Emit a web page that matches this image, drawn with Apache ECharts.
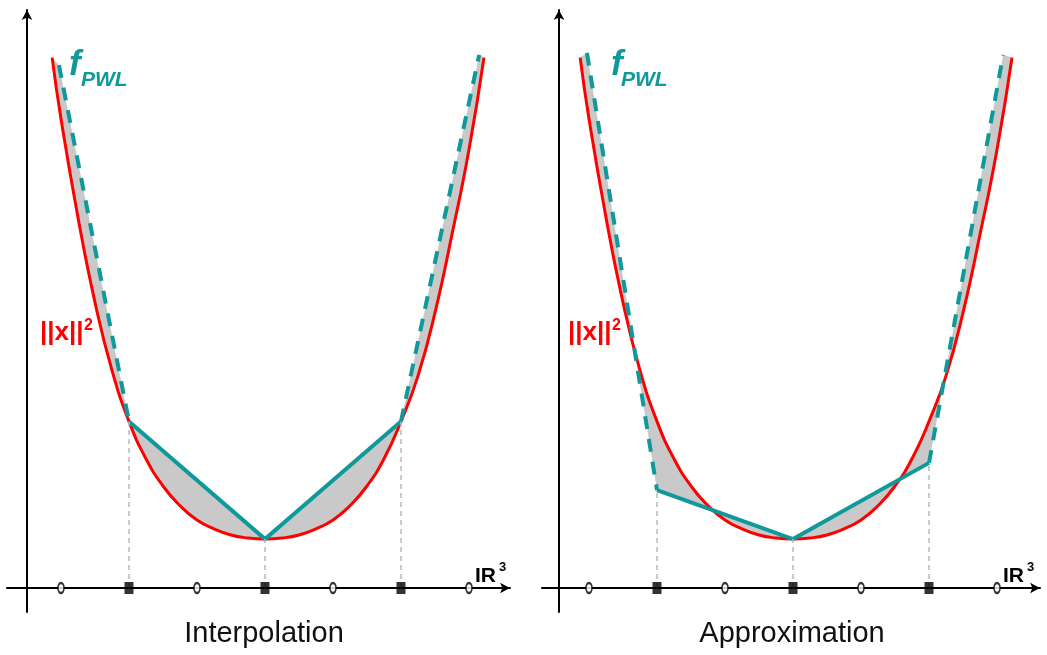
<!DOCTYPE html>
<html>
<head>
<meta charset="utf-8">
<script src="https://cdn.jsdelivr.net/npm/echarts@6/dist/echarts.min.js"></script>
<style>
  html, body { margin: 0; padding: 0; background: #fff; }
  #chart { width: 1047px; height: 655px; }
</style>
</head>
<body>
<div id="chart"></div>
<script>
// ||x||^2 drawn as a profile: abscissa (node units) and value
const curveX = [-3.13, -3.0, -2.75, -2.5, -2.25, -2.0, -1.75, -1.5, -1.25, -1.0, -0.75, -0.5, -0.25, 0,
                0.25, 0.5, 0.75, 1.0, 1.25, 1.5, 1.75, 2.0, 2.25, 2.5, 2.75, 3.0, 3.22];
const curveY = [7.80, 6.90, 5.45, 4.20, 3.20, 2.45, 1.90, 1.50, 1.21, 1.00, 0.87, 0.78, 0.735, 0.72,
                0.735, 0.78, 0.87, 1.00, 1.21, 1.50, 1.90, 2.45, 3.12, 4.05, 5.20, 6.45, 7.80];

// grid nodes on the axis: filled squares (PWL nodes) and open circles
const nodeX = [-2, 0, 2];
const openX = [-3, -1, 1, 3];

// piecewise-linear f_PWL, interpolating the nodes
const interpX = [-3.03, -2, 0, 2, 3.15];
const interpY = [7.69, 2.45, 0.72, 2.45, 7.84];

// piecewise-linear f_PWL, least-squares style approximation
const approxX = [-3.03, -2, 0, 2, 3.09];
const approxY = [7.87, 1.44, 0.72, 1.84, 7.84];

// panel captions and labels
const captions = ['Interpolation', 'Approximation'];
const fLabel = 'f';
const fSub = 'PWL';
const normLabel = '||x||';
const normSup = '2';
const spaceLabel = 'IR';
const spaceSup = '3';

const TEAL = '#10999a';
const RED = '#ff0000';
const FONT = '"Liberation Sans", Arial, sans-serif';

const pairs = (xs, ys) => xs.map((x, k) => [x, ys[k]]);

function panelSeries(i, px, py) {
  const curve = pairs(curveX, curveY);
  const pwl = pairs(px, py);
  // region between the curve and f_PWL: curve forward, PWL backward
  const poly = curve.concat(pwl.slice().reverse());
  return [
    {
      type: 'custom', xAxisIndex: i, yAxisIndex: i, silent: true, z: 1,
      data: poly,
      renderItem: function (params, api) {
        if (params.dataIndex !== 0) return;
        return {
          type: 'polygon',
          shape: { points: poly.map(p => api.coord(p)) },
          style: { fill: '#c9c9c9', stroke: null }
        };
      }
    },
    {
      type: 'line', xAxisIndex: i, yAxisIndex: i, data: [], silent: true, z: 2,
      markLine: {
        silent: true, symbol: ['none', 'none'], animation: false,
        label: { show: false },
        lineStyle: { color: '#b9b9b9', width: 1.5, type: [5, 4] },
        emphasis: { disabled: true },
        data: nodeX.map((x, k) => [{ coord: [x, 0] }, { coord: [x, py[k + 1]] }])
      }
    },
    {
      type: 'line', xAxisIndex: i, yAxisIndex: i, data: curve, smooth: true,
      symbol: 'none', silent: true, z: 3,
      lineStyle: { color: RED, width: 3 }
    },
    {
      type: 'line', xAxisIndex: i, yAxisIndex: i, data: pwl.slice(1, 4),
      symbol: 'none', silent: true, z: 4,
      lineStyle: { color: TEAL, width: 4, join: 'miter' }
    },
    {
      type: 'line', xAxisIndex: i, yAxisIndex: i, data: pwl.slice(0, 2),
      symbol: 'none', silent: true, z: 4,
      lineStyle: { color: TEAL, width: 4, type: [13, 10], cap: 'butt' }
    },
    {
      type: 'line', xAxisIndex: i, yAxisIndex: i, data: pwl.slice(3, 5),
      symbol: 'none', silent: true, z: 4,
      lineStyle: { color: TEAL, width: 4, type: [13, 10], cap: 'butt' }
    },
    {
      type: 'scatter', xAxisIndex: i, yAxisIndex: i, silent: true, z: 5,
      data: openX.map(x => [x, 0]),
      symbol: 'circle', symbolSize: [6, 10],
      itemStyle: { color: '#fff', borderColor: '#000', borderWidth: 2 }
    },
    {
      type: 'scatter', xAxisIndex: i, yAxisIndex: i, silent: true, z: 5,
      data: nodeX.map(x => [x, 0]),
      symbol: 'rect', symbolSize: [9, 12],
      itemStyle: { color: '#000' }
    }
  ];
}

const axisLineStyle = { color: '#000', width: 2 };

function xAxisFor(i, min, max) {
  return {
    type: 'value', gridIndex: i, min: min, max: max,
    axisLine: { show: true, onZero: true, symbol: ['none', 'arrow'], symbolSize: [8, 10], lineStyle: axisLineStyle },
    axisTick: { show: false }, axisLabel: { show: false }, splitLine: { show: false }
  };
}
function yAxisFor(i, offset) {
  return {
    type: 'value', gridIndex: i, min: -0.353, max: 8.5, position: 'left', offset: offset,
    axisLine: { show: true, onZero: false, symbol: ['none', 'arrow'], symbolSize: [8, 10], lineStyle: axisLineStyle },
    axisTick: { show: false }, axisLabel: { show: false }, splitLine: { show: false }
  };
}

function txt(x, y, text, size, color, weight, style, align) {
  return {
    type: 'text', x: x, y: y, z: 100, silent: true,
    style: {
      text: text, fill: color, align: align || 'left', verticalAlign: 'middle',
      font: (style || 'normal') + ' ' + (weight || 'normal') + ' ' + size + 'px ' + FONT
    }
  };
}

const graphics = [];
const panelShift = [0, 528];
const panelCenters = [264, 792];
[0, 1].forEach(i => {
  const s = panelShift[i];
  graphics.push(txt(69 + s + (i ? 14 : 0), 65, fLabel, 35, TEAL, 'bold', 'italic'));
  graphics.push(txt(81 + s + (i ? 12 : 0), 80, fSub, 21, TEAL, 'bold', 'italic'));
  graphics.push(txt(40 + s, 333, normLabel, 26, RED, 'bold'));
  graphics.push(txt(84 + s, 326, normSup, 16, RED, 'bold'));
  graphics.push(txt(475 + s, 576, spaceLabel, 21, '#000', 'bold'));
  graphics.push(txt(499 + s, 567, spaceSup, 13, '#000', 'bold'));
  graphics.push(txt(panelCenters[i], 634, captions[i], 29, '#111', 'normal', 'normal', 'center'));
});

const chart = echarts.init(document.getElementById('chart'), null, { renderer: 'canvas' });
chart.setOption({
  animation: false,
  backgroundColor: '#fff',
  grid: [
    { left: 7, top: 10, width: 503, height: 602, containLabel: false, outerBoundsMode: 'none' },
    { left: 542, top: 10, width: 498, height: 602, containLabel: false, outerBoundsMode: 'none' }
  ],
  xAxis: [xAxisFor(0, -3.794, 3.603), xAxisFor(1, -3.691, 3.632)],
  yAxis: [yAxisFor(0, -20), yAxisFor(1, -17)],
  series: panelSeries(0, interpX, interpY).concat(panelSeries(1, approxX, approxY)),
  graphic: graphics
});
</script>
</body>
</html>
